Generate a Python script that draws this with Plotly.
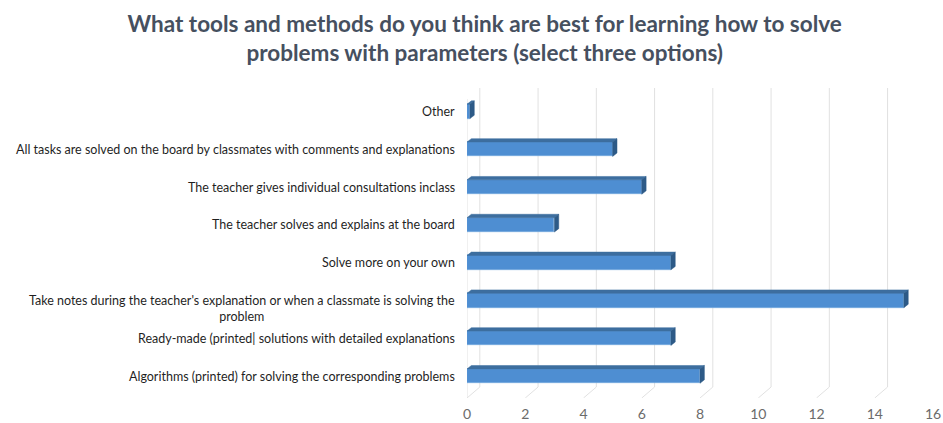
import plotly.graph_objects as go

categories = [
    "Algorithms (printed) for solving the corresponding problems",
    "Ready-made (printed| solutions with detailed explanations",
    "Take notes during the teacher's explanation or when a classmate is solving the<br>problem",
    "Solve more on your own",
    "The teacher solves and explains at the board",
    "The teacher gives individual consultations inclass",
    "All tasks are solved on the board by classmates with comments and explanations",
    "Other",
]
values = [8, 7, 15, 7, 3, 6, 5, 0.1]
x_ticks = [0, 2, 4, 6, 8, 10, 12, 14, 16]

title = ("What tools and methods do you think are best for learning how to solve"
         "<br>problems with parameters (select three options)")

# 3D look parameters (in data units)
BW = 0.38      # front face height
DX = 0.15      # depth shift in x
DY = 0.09      # depth shift in y
GDX = 0.44     # wall/floor depth for gridlines
GDY = 0.29
Y0 = -0.58
Y1 = 7.62

FACE = "#4E8ED2"
TOP = "#3D6E9F"
END = "#2D5A87"

idx = list(range(len(categories)))

fig = go.Figure()
fig.add_trace(go.Bar(
    y=idx, x=values, orientation="h", width=BW,
    marker=dict(color=FACE, line=dict(color="#74AAE0", width=0.6)),
    hoverinfo="x",
))

# top bevel and end face polygons computed from values
tx, ty, ex, ey = [], [], [], []
for i, v in zip(idx, values):
    top = i + BW / 2
    bot = i - BW / 2
    tx += [0, v, v + DX, DX, 0, None]
    ty += [top, top, top + DY, top + DY, top, None]
    ex += [v, v + DX, v + DX, v, v, None]
    ey += [bot, bot + DY, top + DY, top, bot, None]
fig.add_trace(go.Scatter(x=tx, y=ty, fill="toself", fillcolor=TOP, mode="lines",
                         line=dict(color=TOP, width=0.5), hoverinfo="skip"))
fig.add_trace(go.Scatter(x=ex, y=ey, fill="toself", fillcolor=END, mode="lines",
                         line=dict(color=END, width=0.5), hoverinfo="skip"))

# 3D gridlines (back wall + floor diagonals)
shapes = []
for k in x_ticks[:-1]:
    shapes.append(dict(type="line", xref="x", yref="y", x0=k + GDX, x1=k + GDX,
                       y0=Y0 + GDY, y1=Y1, line=dict(color="#E1E1E1", width=1), layer="below"))
    shapes.append(dict(type="line", xref="x", yref="y", x0=k, x1=k + GDX,
                       y0=Y0, y1=Y0 + GDY, line=dict(color="#E1E1E1", width=1), layer="below"))
shapes.append(dict(type="line", xref="x", yref="y", x0=0, x1=0, y0=Y0, y1=Y1 - GDY,
                   line=dict(color="#E1E1E1", width=1), layer="below"))

annotations = []
for i, c in zip(idx, categories):
    annotations.append(dict(
        x=0, xref="paper", xshift=-10, xanchor="right",
        y=i, yref="y", yshift=(-8 if "<br>" in c else 0), yanchor="middle",
        text=c, showarrow=False, align="center",
        font=dict(family="Lato", size=12.5, color="#1f1f1f"),
    ))

fig.update_layout(
    width=943, height=423,
    margin=dict(l=467, r=10, t=88, b=25),
    paper_bgcolor="white", plot_bgcolor="white",
    showlegend=False,
    title=dict(text=title, x=0.514, xanchor="center", y=0.924, yanchor="middle",
               font=dict(family="Lato", size=22.5, color="#46505F", weight="bold")),
    xaxis=dict(range=[0, 16], tickvals=x_ticks, showgrid=False, zeroline=False,
               showline=False, ticks="", ticklabelstandoff=6, ticklabeloverflow="allow",
               automargin=False,
               tickfont=dict(family="Lato", size=14, color="#6B6B6B")),
    yaxis=dict(range=[Y0, Y1], showgrid=False, zeroline=False, showline=False,
               showticklabels=False, ticks="", automargin=False),
    shapes=shapes,
    annotations=annotations,
    bargap=0,
)

fig.write_html("out.html")
